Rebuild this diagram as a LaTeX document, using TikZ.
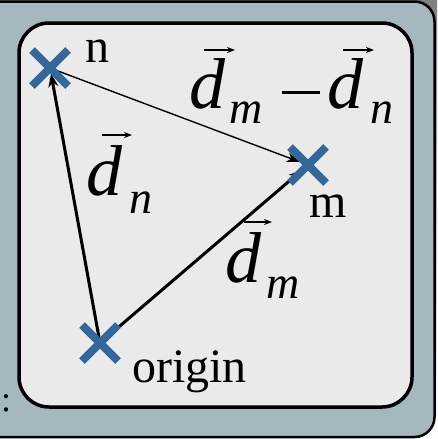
\documentclass[tikz,border=0pt]{standalone}
\usepackage{fontspec}
\setmainfont{Liberation Serif}
\usetikzlibrary{arrows.meta,calc}
\definecolor{outerfill}{HTML}{A5B8C0}
\definecolor{innerfill}{HTML}{EAEAEA}
\definecolor{xblue}{HTML}{34689A}
\definecolor{shade}{HTML}{8A8A8A}
\begin{document}
\begin{tikzpicture}[x=1pt,y=-1pt,
  lbl/.style={inner sep=0pt,anchor=base west,font=\fontsize{48}{48}\selectfont},
  bigd/.style={inner sep=0pt,anchor=base west,font=\fontsize{72}{72}\selectfont\itshape},
  subs/.style={inner sep=0pt,anchor=base west,font=\fontsize{46}{46}\selectfont\itshape},
  vecarr/.style={line width=1.4pt,-{Stealth[length=8pt,width=6pt]}},
  cross/.style={line width=8pt,xblue},
  thickarr/.style={line width=3pt,-{Stealth[length=13pt,width=10pt]}},
  thinarr/.style={line width=1.4pt,-{Stealth[length=13pt,width=10pt]}}]
\useasboundingbox (0,0) rectangle (437,439);
\clip (0,0) rectangle (437,439);
\fill[shade] (0,0) rectangle (437,439);
\draw[line width=2.5pt, fill=outerfill, rounded corners=20pt] (-30,1.5) rectangle (434.5,437);
\draw[line width=3.5pt, fill=innerfill, rounded corners=30pt] (19,23) rectangle (412,407);
% colon
\node[inner sep=0pt,anchor=base west,font=\fontsize{36}{36}\selectfont] (colon) at (1,411) {:};
% points
\coordinate (n) at (50,68);
\coordinate (m) at (308,165);
\coordinate (o) at (100,343);
% connectors
\draw[thickarr,shorten >=6pt] (o) -- (n);
\draw[thickarr,shorten >=8pt] (o) -- (m);
\draw[thinarr,shorten >=9pt] (n) -- (m);
% crosses
\foreach \p in {n,m,o}{
  \draw[cross] ($(\p)+(-18,-18)$) -- ($(\p)+(18,18)$);
  \draw[cross] ($(\p)+(-18,18)$) -- ($(\p)+(18,-18)$);
}
% text labels
\node[lbl] (ln) at (85,62) {n};
\node[lbl] (lm) at (309,217) {m};
\node[lbl] (lo) at (132,382) {origin};
% d_n
\node[bigd] (dn) at (86,195) {d};
\node[subs] (dnsub) at (129,213) {n};
\draw[vecarr] (102,135) -- (132,135);
% d_m
\node[bigd] (dm) at (225,282) {d};
\node[subs] (dmsub) at (266,298) {m};
\draw[vecarr] (244,222) -- (272,222);
% d_m - d_n
\node[bigd] (da) at (189,108) {d};
\node[subs] (dasub) at (229,123) {m};
\draw[line width=3pt] (282,92) -- (320,92);
\node[bigd] (db) at (327,108) {d};
\node[subs] (dbsub) at (370,123) {n};
\draw[vecarr] (204,50) -- (235,50);
\draw[vecarr] (343,50) -- (374,50);
\end{tikzpicture}
\end{document}
